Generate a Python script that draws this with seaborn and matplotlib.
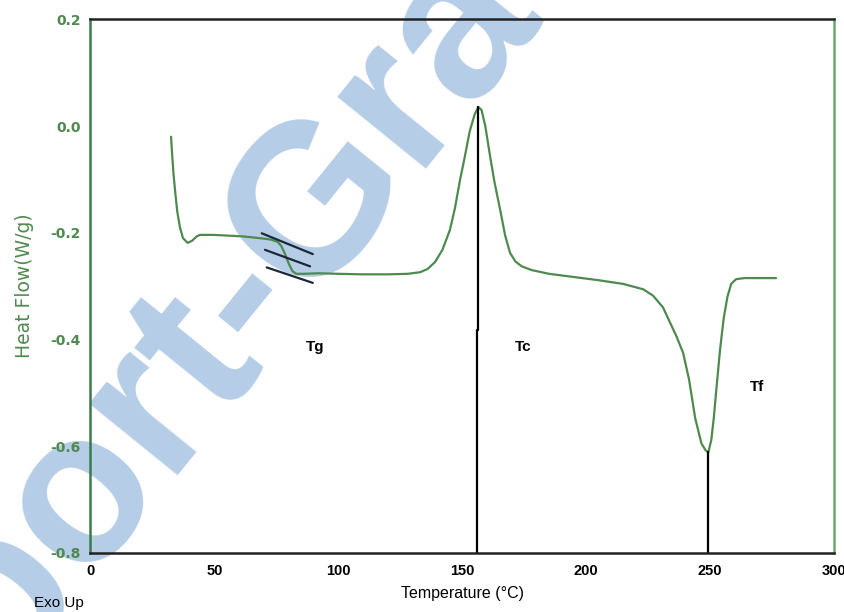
import matplotlib
matplotlib.use("Agg")
import matplotlib.pyplot as plt
import seaborn as sns
import pandas as pd

# DSC trace
temperature = [32.5, 32.9, 33.5, 34.1, 35.0, 36.1, 37.3, 39.2, 41.0, 42.8, 44.2, 49.5,
               54.0, 58.0, 62.0, 66.0, 70.0, 73.0, 75.5, 77.0, 78.5, 80.0, 81.5, 83.0,
               86.0, 92.0, 100.0, 110.0, 120.0, 128.0, 133.0, 136.0, 139.0, 142.0,
               145.0, 147.0, 149.1, 151.0, 153.0, 155.0, 156.5, 157.8, 159.3, 161.0,
               163.0, 165.3, 167.3, 169.3, 171.5, 174.0, 178.0, 185.0, 195.0, 205.0,
               215.0, 223.0, 227.0, 231.0, 234.0, 236.5, 239.1, 241.5, 244.0, 246.5,
               248.2, 249.3, 250.5, 251.5, 252.5, 254.0, 255.5, 257.0, 258.5, 260.5,
               264.0, 270.0, 276.6]
heat_flow = [-0.020, -0.050, -0.090, -0.120, -0.160, -0.190, -0.210, -0.219, -0.215, -0.207,
             -0.204, -0.204, -0.205, -0.206, -0.207, -0.209, -0.211, -0.213, -0.217, -0.225,
             -0.240, -0.258, -0.272, -0.277, -0.277, -0.276, -0.277, -0.278, -0.278, -0.277,
             -0.274, -0.268, -0.255, -0.232, -0.195, -0.155, -0.101, -0.058, -0.010, 0.022,
             0.036, 0.030, 0.000, -0.050, -0.105, -0.157, -0.205, -0.238, -0.254, -0.263,
             -0.270, -0.277, -0.283, -0.289, -0.296, -0.306, -0.318, -0.340, -0.370, -0.395,
             -0.425, -0.475, -0.548, -0.595, -0.608, -0.612, -0.588, -0.547, -0.495, -0.420,
             -0.360, -0.320, -0.296, -0.287, -0.285, -0.285, -0.285]

# tangent construction lines at Tg
tangent_x0 = [69.1, 70.4, 71.1]
tangent_y0 = [-0.201, -0.232, -0.265]
tangent_x1 = [89.7, 88.6, 89.7]
tangent_y1 = [-0.240, -0.263, -0.294]

# peak markers
tc_temp, tc_peak = 156.5, 0.036
tf_temp, tf_peak = 249.3, -0.612

labels = ["Tg", "Tc", "Tf"]
label_x = [90.5, 174.5, 268.9]
label_y = [-0.415, -0.415, -0.49]

x_ticks = [0, 50, 100, 150, 200, 250, 300]
y_ticks = [0.2, 0.0, -0.2, -0.4, -0.6, -0.8]

df = pd.DataFrame({"Temperature": temperature, "HeatFlow": heat_flow})

sns.set_style("white")
plt.rcParams["font.family"] = ["Liberation Sans", "DejaVu Sans"]

fig = plt.figure(figsize=(8.45, 6.12), dpi=100)
ax = fig.add_axes([0.1071, 0.0969, 0.8799, 0.8713])
ax.patch.set_alpha(0)

# watermark behind everything
fig.text(0.259, 0.480, "Report-Grade", rotation=51, ha="center", va="center",
         fontsize=155, fontweight="bold", color="#b5cde6", zorder=-5)

green = "#4e8a4e"
sns.lineplot(data=df, x="Temperature", y="HeatFlow", ax=ax, color=green,
             linewidth=1.6, estimator=None, sort=False)

for x0, y0, x1, y1 in zip(tangent_x0, tangent_y0, tangent_x1, tangent_y1):
    ax.plot([x0, x1], [y0, y1], color="#1c2838", linewidth=1.6)

ax.plot([tc_temp, tc_temp], [tc_peak, -0.383], color="black", linewidth=1.6)
ax.plot([tc_temp - 0.6, tc_temp - 0.6], [-0.383, -0.8], color="black", linewidth=1.6)
ax.plot([tf_temp, tf_temp], [tf_peak, -0.8], color="black", linewidth=1.6)

for lab, lx, ly in zip(labels, label_x, label_y):
    ax.text(lx, ly, lab, ha="center", va="center", fontsize=11, fontweight="bold",
            color="black")

ax.set_xlim(0, 300)
ax.set_ylim(-0.8, 0.2)
ax.set_xticks(x_ticks)
ax.set_xticks([25, 75, 125, 175, 225, 275], minor=True)
ax.set_yticks(y_ticks)
ax.set_yticks([0.1, -0.1, -0.3, -0.5, -0.7], minor=True)
ax.set_yticklabels([f"{v:.1f}" for v in y_ticks], color=green, fontsize=10,
                   fontweight="bold", family=["DejaVu Sans"])
ax.set_xticklabels([str(v) for v in x_ticks], fontsize=10.5, fontweight="bold")
ax.tick_params(axis="both", which="major", direction="out", length=5, width=1.3)
ax.tick_params(axis="both", which="minor", direction="out", length=3, width=1.3)
ax.tick_params(axis="x", colors="black", pad=3)
ax.tick_params(axis="y", which="both", color="#333333", pad=2)

ax.set_xlabel("Temperature (\u00b0C)", fontsize=11.5, color="black", labelpad=6)
ax.set_ylabel("Heat Flow(W/g)", fontsize=13.5, color=green, labelpad=12,
              family=["DejaVu Sans"])

for side, col in [("top", "#222222"), ("bottom", "#222222"),
                  ("left", "#3a7a4a"), ("right", "#6aa86a")]:
    ax.spines[side].set_visible(True)
    ax.spines[side].set_color(col)
    ax.spines[side].set_linewidth(1.8)

fig.text(0.04, 0.004, "Exo Up", fontsize=11, color="black", ha="left", va="bottom")

fig.savefig("out.png", dpi=100)
